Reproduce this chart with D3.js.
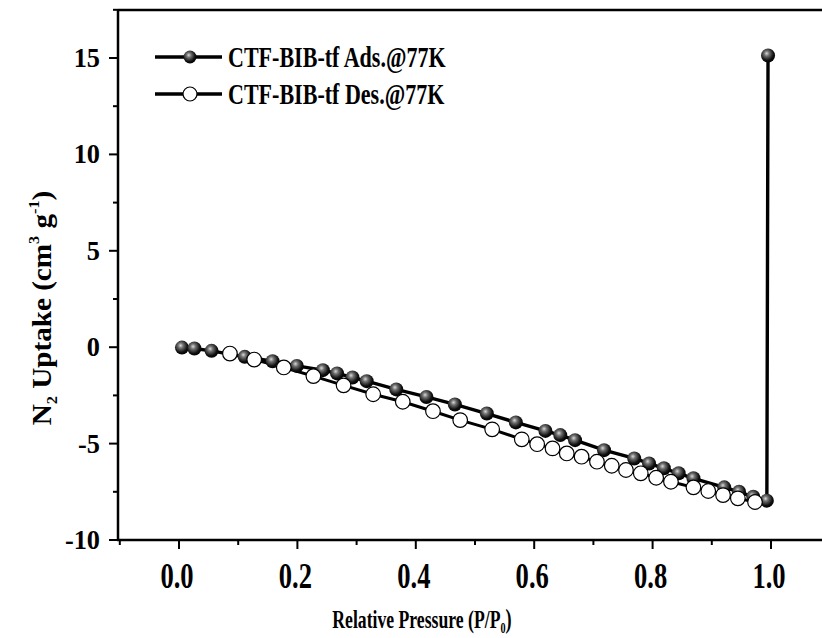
<!DOCTYPE html>
<html><head><meta charset="utf-8">
<script src="https://cdn.jsdelivr.net/npm/d3@7"></script>
<style>body{margin:0;background:#fff}svg{display:block}text{font-family:"Liberation Serif","Times New Roman",serif;font-weight:bold}</style>
</head><body><svg id="c" width="822" height="638"></svg>
<script>
const adsP = [0.005,0.026,0.055,0.111,0.158,0.199,0.243,0.267,0.293,0.317,0.367,0.418,0.466,0.520,0.569,0.619,0.644,0.669,0.718,0.769,0.794,0.819,0.844,0.869,0.921,0.946,0.970,0.993,0.995];
const adsV = [-0.02,-0.07,-0.19,-0.50,-0.73,-0.97,-1.19,-1.36,-1.57,-1.76,-2.19,-2.58,-2.97,-3.44,-3.90,-4.34,-4.56,-4.82,-5.34,-5.77,-6.03,-6.28,-6.54,-6.80,-7.27,-7.50,-7.76,-7.96,15.13];
const desP = [0.973,0.944,0.919,0.894,0.869,0.831,0.806,0.780,0.755,0.731,0.706,0.680,0.655,0.631,0.605,0.579,0.529,0.475,0.429,0.378,0.328,0.278,0.227,0.177,0.127,0.086];
const desV = [-8.03,-7.84,-7.67,-7.46,-7.27,-6.98,-6.77,-6.54,-6.37,-6.15,-5.94,-5.68,-5.51,-5.25,-5.03,-4.78,-4.26,-3.78,-3.32,-2.83,-2.44,-1.98,-1.50,-1.05,-0.64,-0.33];
const xTicks = [0.0,0.2,0.4,0.6,0.8,1.0];
const xMinor = [-0.1,0.1,0.3,0.5,0.7,0.9,1.1];
const yTicks = [-10,-5,0,5,10,15];
const yMinor = [-7.5,-2.5,2.5,7.5,12.5,17.5];
const legendLabels = ["CTF-BIB-tf Ads.@77K","CTF-BIB-tf Des.@77K"];

const svg = d3.select("#c");
const L=118, T=10, B=540;
const x = d3.scaleLinear().domain([0,1]).range([179,771]);
const y = d3.scaleLinear().domain([-10,15]).range([540,58]);

const defs = svg.append("defs");
const g = defs.append("radialGradient").attr("id","ball").attr("cx","0.42").attr("cy","0.38").attr("r","0.62").attr("fx","0.4").attr("fy","0.35");
g.append("stop").attr("offset","0").attr("stop-color","#d8d8d8");
g.append("stop").attr("offset","0.3").attr("stop-color","#707070");
g.append("stop").attr("offset","0.75").attr("stop-color","#111");
g.append("stop").attr("offset","1").attr("stop-color","#000");

// frame
svg.append("line").attr("x1",L).attr("x2",822).attr("y1",T).attr("y2",T).attr("stroke","#000").attr("stroke-width",2.5);
svg.append("line").attr("x1",L).attr("x2",L).attr("y1",T).attr("y2",B).attr("stroke","#000").attr("stroke-width",2.5);
svg.append("line").attr("x1",L-1).attr("x2",822).attr("y1",B).attr("y2",B).attr("stroke","#000").attr("stroke-width",2.5);

// ticks
const xa = svg.append("g");
xTicks.forEach(v=>{
  xa.append("line").attr("x1",x(v)).attr("x2",x(v)).attr("y1",B).attr("y2",B+9).attr("stroke","#000").attr("stroke-width",2);
  xa.append("text").attr("transform",`translate(${x(v)-2},588) scale(0.76,1)`).attr("text-anchor","middle").attr("font-size",35).text(d3.format(".1f")(v));
});
xMinor.forEach(v=>{
  xa.append("line").attr("x1",x(v)).attr("x2",x(v)).attr("y1",B).attr("y2",B+5).attr("stroke","#000").attr("stroke-width",2);
});
yTicks.forEach(v=>{
  xa.append("line").attr("x1",L).attr("x2",L-9).attr("y1",y(v)).attr("y2",y(v)).attr("stroke","#000").attr("stroke-width",2);
  xa.append("text").attr("transform",`translate(100,${y(v)+9}) scale(0.94,1)`).attr("text-anchor","end").attr("font-size",28).text(v);
});
yMinor.forEach(v=>{
  xa.append("line").attr("x1",L).attr("x2",L-5).attr("y1",y(v)).attr("y2",y(v)).attr("stroke","#000").attr("stroke-width",2);
});

// axis titles
const xt = svg.append("text").attr("transform","translate(422,628) scale(0.68,1)").attr("text-anchor","middle").attr("font-size",26);
xt.append("tspan").text("Relative Pressure (P/P");
xt.append("tspan").attr("font-size",15).attr("dy",5).text("0");
xt.append("tspan").attr("font-size",27).attr("dy",-5).text(")");

const yt = svg.append("text").attr("transform","translate(51,308) rotate(-90) scale(1.08,1)").attr("text-anchor","middle").attr("font-size",27);
yt.append("tspan").text("N");
yt.append("tspan").attr("font-size",15).attr("dy",6).text("2");
yt.append("tspan").attr("font-size",27).attr("dy",-6).text(" Uptake (cm");
yt.append("tspan").attr("font-size",15).attr("dy",-12).text("3");
yt.append("tspan").attr("font-size",27).attr("dy",12).text(" g");
yt.append("tspan").attr("font-size",15).attr("dy",-12).text("-1");
yt.append("tspan").attr("font-size",27).attr("dy",12).text(")");

const line = d3.line().x(d=>x(d[0])).y(d=>y(d[1]));
const ads = adsP.map((p,i)=>[p,adsV[i]]);
const des = desP.map((p,i)=>[p,desV[i]]);

svg.append("path").datum(des).attr("d",line).attr("fill","none").attr("stroke","#000").attr("stroke-width",3);
svg.append("path").datum(ads).attr("d",line).attr("fill","none").attr("stroke","#000").attr("stroke-width",3.4);

svg.append("g").selectAll("circle").data(ads).join("circle")
  .attr("cx",d=>x(d[0])).attr("cy",d=>y(d[1])).attr("r",7).attr("fill","url(#ball)");
svg.append("g").selectAll("circle").data(des).join("circle")
  .attr("cx",d=>x(d[0])).attr("cy",d=>y(d[1])).attr("r",7.3).attr("fill","#fff").attr("stroke","#000").attr("stroke-width",1.2);

// legend
const lg = svg.append("g");
[[57,true],[94,false]].forEach(([ly,filled],i)=>{
  lg.append("line").attr("x1",155).attr("x2",222).attr("y1",ly).attr("y2",ly).attr("stroke","#000").attr("stroke-width",3.5);
  if(filled) lg.append("circle").attr("cx",190).attr("cy",ly).attr("r",6.5).attr("fill","url(#ball)");
  else lg.append("circle").attr("cx",190).attr("cy",ly).attr("r",7).attr("fill","#fff").attr("stroke","#000").attr("stroke-width",1.2);
  lg.append("text").attr("transform",`translate(228,${ly+10}) scale(0.76,1)`).attr("font-size",29).text(legendLabels[i]);
});
</script></body></html>
